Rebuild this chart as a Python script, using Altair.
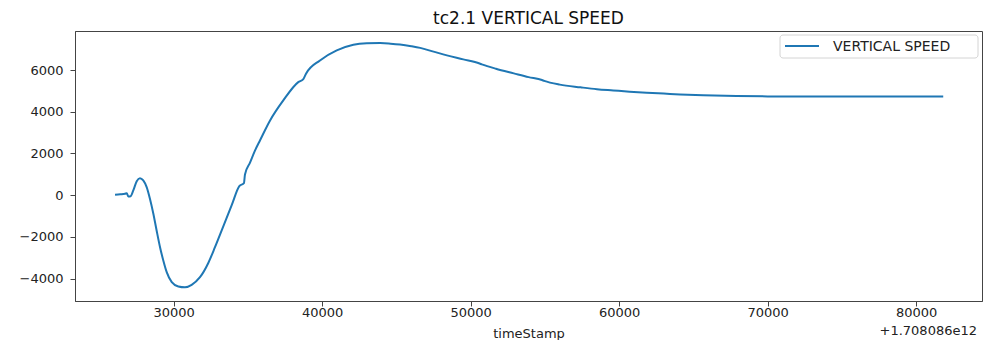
import altair as alt
import pandas as pd

# Telemetry: vertical speed against time (ms, relative to the epoch offset below)
SERIES_NAME = "VERTICAL SPEED"
TITLE = "tc2.1 VERTICAL SPEED"
OFFSET_LABEL = "+1.708086e12"

time_ms = [26050, 26400, 26720, 26840, 26940, 27100, 27280, 27510, 27730, 27950,
           28180, 28400, 28630, 28850, 29080, 29300, 29530, 29870, 30310, 30760,
           31210, 31770, 32330, 32780, 33340, 33900, 34420, 34730, 34800, 35140,
           35480, 35810, 36490, 37380, 38390, 38730, 38910, 39850, 40980, 42100,
           43000, 43900, 44600, 45240, 46000, 46600, 47500, 48400, 49500, 50600,
           50750, 51700, 52900, 53900, 54800, 54950, 56000, 57400, 58500, 59600,
           60700, 61850, 63000, 64100, 65660, 67900, 70000, 72400, 76900, 81820]
vertical_speed = [20, 40, 67, 96, -62, -48, 225, 671, 815, 705,
                  384, -173, -892, -1693, -2494, -3132, -3693, -4172, -4379, -4420,
                  -4297, -3933, -3250, -2494, -1494, -492, 432, 576, 993, 1560,
                  2144, 2623, 3582, 4542, 5420, 5564, 5823, 6460, 6940, 7213,
                  7280, 7290, 7262, 7220, 7140, 7060, 6880, 6700, 6510, 6310,
                  6270, 6060, 5840, 5660, 5520, 5480, 5300, 5170, 5080, 5020,
                  4960, 4910, 4870, 4830, 4790, 4750, 4735, 4730, 4730, 4730]

x_ticks = [30000, 40000, 50000, 60000, 70000, 80000]
y_ticks = [-4000, -2000, 0, 2000, 4000, 6000]

LINE_COLOR = "#1f77b4"
FONT = "DejaVu Sans"
W, H = 907, 270

df = pd.DataFrame({"timeStamp": time_ms, "speed": vertical_speed})

line = alt.Chart(df).mark_line(
    strokeWidth=2, interpolate="monotone", color=LINE_COLOR
).encode(
    x=alt.X("timeStamp:Q",
            scale=alt.Scale(domain=[23354, 84431], nice=False, zero=False),
            axis=alt.Axis(values=x_ticks, format="d", title="timeStamp",
                          titlePadding=8)),
    y=alt.Y("speed:Q",
            scale=alt.Scale(domain=[-5074, 7870], nice=False, zero=False),
            axis=alt.Axis(values=y_ticks, format="d", title=None, labelPadding=7)),
)

# Legend box in the upper-right corner of the axes
one = pd.DataFrame({"label": [SERIES_NAME]})
legend_box = alt.Chart(one).mark_rect(
    fill="white", stroke="#d4d4d4", strokeWidth=1, cornerRadius=3
).encode(x=alt.value(705), x2=alt.value(903), y=alt.value(4), y2=alt.value(27))
legend_line = alt.Chart(one).mark_rule(color=LINE_COLOR, strokeWidth=2).encode(
    x=alt.value(710), x2=alt.value(744), y=alt.value(15))
legend_text = alt.Chart(one).mark_text(
    align="left", baseline="middle", fontSize=14, font=FONT, color="#222"
).encode(x=alt.value(758), y=alt.value(15.5), text="label:N")

offset_text = alt.Chart(pd.DataFrame({"t": [OFFSET_LABEL]})).mark_text(
    align="right", baseline="middle", fontSize=13, font=FONT, color="#222"
).encode(x=alt.value(W - 5), y=alt.value(H + 30), text="t:N")

chart = alt.layer(line, legend_box, legend_line, legend_text, offset_text).properties(
    width=W, height=H,
    title=alt.TitleParams(TITLE, fontSize=17, font=FONT, fontWeight="normal",
                          color="#111", offset=3, anchor="middle"),
    padding={"left": 75, "top": 31, "right": 1, "bottom": 39},
    autosize="none",
).configure(font=FONT).configure_view(
    stroke="#444", strokeWidth=1
).configure_axis(
    grid=False, domainColor="#444", tickColor="#444", tickSize=5,
    labelFontSize=13, labelColor="#222", labelFont=FONT,
    titleFontSize=13, titleColor="#222", titleFont=FONT,
    titleFontWeight="normal", labelPadding=0,
)

chart.save("out.html", embed_options={"renderer": "svg", "actions": False})
